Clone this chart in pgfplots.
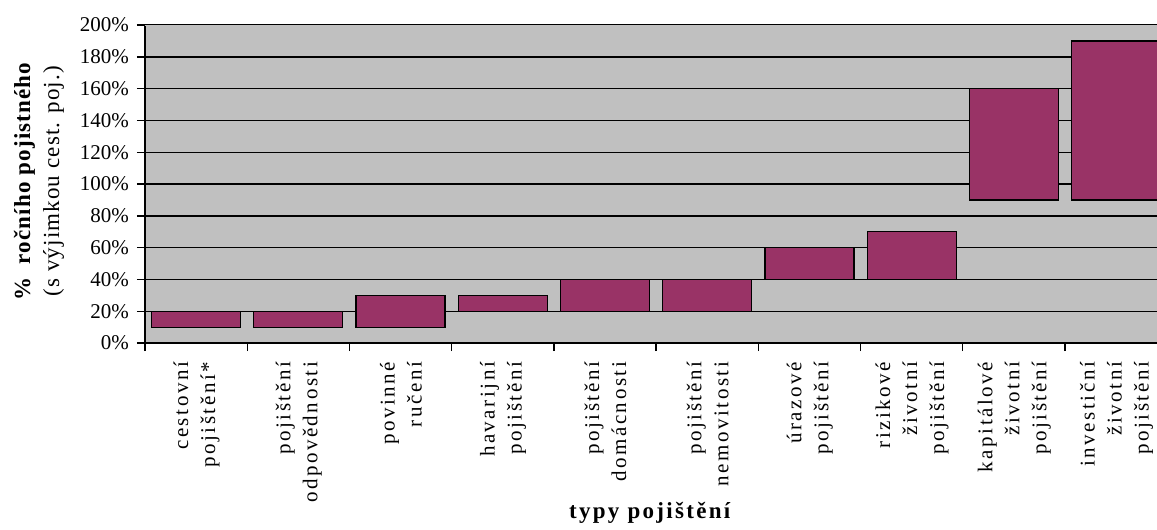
\documentclass[border=0pt]{standalone}
\usepackage{fontspec}
\setmainfont{Liberation Serif}
\usepackage{pgfplots}
\usepackage{pgfplotstable}
\pgfplotsset{compat=1.18}
\definecolor{barcol}{HTML}{993366}
\definecolor{bgcol}{HTML}{C0C0C0}
\pgfplotstableread{
x low high
0.5 10 20
1.5 10 20
2.5 10 30
3.5 20 30
4.5 20 40
5.5 20 40
6.5 40 60
7.5 40 70
8.5 90 160
9.5 90 190
}\ranges
\begin{document}
\begin{tikzpicture}
\begin{axis}[
  at={(0,0)}, anchor=origin,
  scale only axis, width=506pt, height=159pt,
  xmin=0, xmax=9.9, ymin=0, ymax=200,
  axis x line*=bottom, axis y line*=left,
  axis line style={-, line width=0.8pt, black},
  axis background/.style={fill=bgcol},
  ybar stacked, bar width=0.87,
  ytick={0,20,...,200},
  yticklabels={0\%,20\%,40\%,60\%,80\%,100\%,120\%,140\%,160\%,180\%,200\%},
  ymajorgrids, grid style={black, line width=0.7pt},
  tick align=outside, major tick length=4pt,
  tick style={black, line width=0.7pt},
  xtick={0,1,...,9}, xticklabels={},
  extra x ticks={0.5,1.5,...,9.5},
  extra x tick labels={{cestovní\\pojištění*},{pojištění\\odpovědnosti},{povinné\\ručení},{havarijní\\pojištění},{pojištění\\domácnosti},{pojištění\\nemovitosti},{úrazové\\pojištění},{rizikové\\životní\\pojištění},{kapitálové\\životní\\pojištění},{investiční\\životní\\pojištění}},
  extra x tick style={major tick length=0pt, grid=none},
  x tick label style={yshift=-6pt, xshift=0.2pt, rotate=90, anchor=east, align=right,
    font=\fontsize{10.5}{13.5}\selectfont\addfontfeature{LetterSpace=12}},
  y tick label style={font=\fontsize{10.5}{12}\selectfont, xshift=-0.5pt},
  ylabel={\textbf{\%\ \ ročního pojistného}\\(s výjimkou cest. poj.)},
  ylabel style={at={(axis description cs:-0.1047,0.509)}, anchor=center, align=center,
    font=\fontsize{11.5}{14.5}\selectfont\addfontfeature{LetterSpace=5}},
  xlabel={\textbf{typy pojištění}},
  xlabel style={at={(axis description cs:0.5,-0.535)}, anchor=center,
    font=\fontsize{11.5}{13}\selectfont\addfontfeature{LetterSpace=10}},
]
\addplot[draw=none, fill=none] table[x=x, y=low] {\ranges};
\addplot[fill=barcol, draw=black, line width=0.6pt] table[x=x, y expr=\thisrow{high}-\thisrow{low}] {\ranges};
\draw[bgcol, line width=1.2pt] (axis cs:0,200) -- (axis cs:9.9,200);
\draw[gray!80, densely dotted, line width=0.6pt] (axis cs:0,200) -- (axis cs:9.9,200);
\end{axis}
\pgfresetboundingbox
\path[use as bounding box] (-72.5pt,-93.5pt) rectangle (506pt,171.5pt);
\end{tikzpicture}
\end{document}
